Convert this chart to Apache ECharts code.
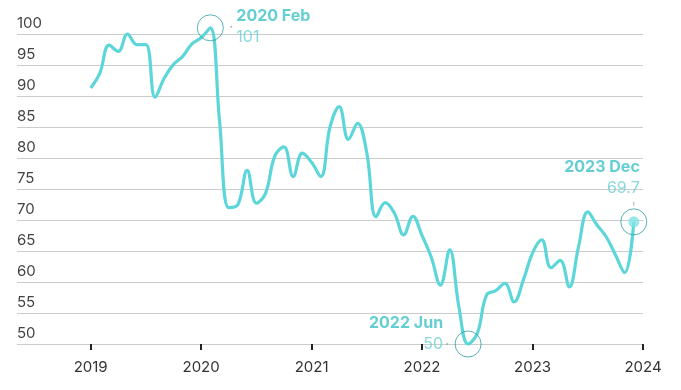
<!DOCTYPE html>
<html>
<head>
<meta charset="utf-8">
<script src="https://cdn.jsdelivr.net/npm/echarts@6/dist/echarts.min.js"></script>
<style>
html,body{margin:0;padding:0;background:#fff;}
#chart{width:681px;height:390px;}
</style>
</head>
<body>
<div id="chart"></div>
<script>
// Monthly index values, 2019 Jan .. 2023 Dec
const startYear = 2019;
const values = [
  91.3, 93.7, 98.2, 97.2, 100, 98.3, 98.3, 89.8, 92.9, 95.1, 96.4, 98.4,
  99.4, 101, 86, 72, 72.5, 78, 72.7, 74.3, 80.3, 81.8, 77, 80.8,
  79.3, 77, 85, 88.3, 83, 85.6, 80.8, 70.5, 72.8, 71.1, 67.6, 70.6,
  67.5, 64, 59.5, 65.2, 56, 50, 51.7, 57.9, 58.6, 59.8, 56.8, 60.3,
  64.7, 66.8, 62.3, 63.5, 59.2, 65.7, 71.3, 69.2, 67.3, 64.4, 61.5, 69.7
];
const yearTicks = [2019, 2020, 2021, 2022, 2023, 2024];
const annotations = [
  { title: '2020 Feb', label: '101', idx: 13 },
  { title: '2022 Jun', label: '50', idx: 41 },
  { title: '2023 Dec', label: '69.7', idx: 59 }
];

const data = values.map((v, i) => [i, v]);
const tickVals = yearTicks.map(y => (y - startYear) * 12);

const lineColor = '#5dd6da';
const boldColor = '#3dc2c7';
const lightColor = '#6ccfd3';
const ringColor = '#2f9fa2';
const font = 'Inter';

const labelRich = {
  t: { fontFamily: font, fontWeight: 'bold', fontSize: 16, color: boldColor, lineHeight: 21 },
  v: { fontFamily: font, fontSize: 16, color: lightColor, lineHeight: 21 }
};
const placements = [
  { align: 'left', offset: [26, -1], lead: { symbol: 'circle', size: 2, off: [21, -1] } },
  { align: 'right', offset: [-25, -10], lead: { symbol: 'circle', size: 2, off: [-21, 0] } },
  { align: 'right', offset: [6, -44], lead: { symbol: 'rect', size: [1, 4], off: [0, -18] } }
];

const ringData = annotations.map((a, k) => ({
  value: [a.idx, values[a.idx]],
  label: {
    show: true,
    position: 'inside',
    align: placements[k].align,
    verticalAlign: 'middle',
    offset: placements[k].offset,
    formatter: '{t|' + a.title + '}\n{v|' + a.label + '}',
    rich: labelRich
  }
}));
const leadSeries = annotations.map((a, k) => ({
  type: 'scatter',
  clip: false,
  silent: true,
  z: 6,
  symbol: placements[k].lead.symbol,
  symbolSize: placements[k].lead.size,
  symbolOffset: placements[k].lead.off,
  itemStyle: { color: '#9a9a9a' },
  data: [[a.idx, values[a.idx]]]
}));
const lastIdx = values.length - 1;

const chart = echarts.init(document.getElementById('chart'), null, { renderer: 'canvas' });
chart.setOption({
  animation: false,
  backgroundColor: '#fff',
  grid: { left: 17, right: 38, top: 34, bottom: 46, containLabel: false },
  xAxis: {
    type: 'value',
    min: -8,
    max: 60,
    splitLine: { show: false },
    axisLine: { show: false },
    axisTick: {
      show: true,
      customValues: tickVals,
      length: 6,
      lineStyle: { color: '#222', width: 2 }
    },
    axisLabel: {
      customValues: tickVals,
      formatter: v => String(startYear + Math.round(v / 12)),
      fontFamily: font,
      fontSize: 15,
      color: '#333',
      margin: 16
    }
  },
  yAxis: {
    type: 'value',
    min: 50,
    max: 100,
    interval: 5,
    axisLine: { show: false },
    axisTick: { show: false },
    splitLine: { show: true, lineStyle: { color: '#cccccc', width: 1 } },
    axisLabel: {
      inside: true,
      margin: 0,
      verticalAlign: 'bottom',
      padding: [0, 0, 3, 0],
      fontFamily: font,
      fontSize: 15,
      color: '#444',
      formatter: v => String(v)
    }
  },
  series: [{
    type: 'line',
    data: data,
    smooth: 0.4,
    clip: false,
    showSymbol: false,
    lineStyle: { color: lineColor, width: 3.2 },
    z: 3
  }, {
    type: 'scatter',
    clip: false,
    silent: true,
    z: 5,
    symbol: 'circle',
    symbolSize: 11,
    itemStyle: { color: '#7fe2e6' },
    data: [[lastIdx, values[lastIdx]]]
  }, {
    type: 'scatter',
    clip: false,
    silent: true,
    z: 6,
    symbol: 'circle',
    symbolSize: 26,
    itemStyle: { color: 'rgba(0,0,0,0)', borderColor: ringColor, borderWidth: 1 },
    data: ringData
  }].concat(leadSeries)
});
</script>
</body>
</html>
